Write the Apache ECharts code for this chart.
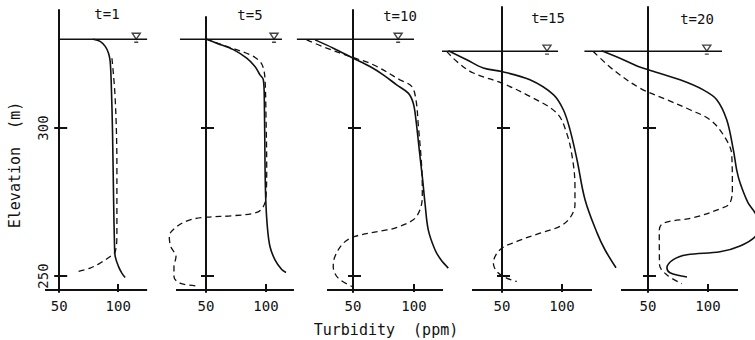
<!DOCTYPE html>
<html><head><meta charset="utf-8">
<script src="https://cdn.jsdelivr.net/npm/echarts@6/dist/echarts.min.js"></script>
<style>html,body{margin:0;padding:0;background:#fff}#c{width:755px;height:340px}</style>
</head><body><div id="c"></div>
<script>
// ---------- data ----------
const panelTitles = ['t=1', 't=5', 't=10', 't=15', 't=20'];
const xTickLabels = [50, 100];
const xTickMarks = [100];
const yTickLabels = [250, 300];
const xAxisName = 'Turbidity  (ppm)';
const yAxisName = 'Elevation  (m)';

// extent of each panel's drawn turbidity axis (ppm) and its elevation (m)
const bottomAxisStart = [38, 25, 28.7, 25, 27.5];
const bottomAxisEnd = [124.5, 123.3, 123.8, 125, 125];
const bottomAxisElevation = 245.3;

// water surface elevation (m) and horizontal extent of the surface line (ppm)
const waterLevel = [330, 330, 330, 326, 326];
const waterLineStart = [50, 28.3, 4, 0, -3];
const waterLineEnd = [124.5, 113.3, 100, 96.7, 111.7];
const waterMarkAt = [115.3, 106.7, 87, 87.5, 99];

// [turbidity (ppm), elevation (m)]
const solidT1 = [[78.8,330],[84.7,329.3],[89,327.6],[91.8,325.3],[93.2,322.5],[94.1,315.3],[95.2,298.4],[96.1,275.8],[96.9,260],[97.5,256.6],[100.3,253.2],[103.1,251],[105.9,249.5]];
const dashedT1 = [[94.7,323.6],[97.5,309.6],[98.9,287],[98.9,264.6],[97.5,258.3],[93.2,256.6],[84.7,254.4],[76.3,252.7],[66.4,251.6]];

const solidT5 = [[50,330.1],[58.9,328.7],[72.8,326.5],[83.9,323.6],[90.8,320.8],[95,318],[97.8,316.3],[98.6,309.6],[99.2,287],[99.8,275.8],[101.1,266.8],[103.3,260],[107.5,255.5],[113.1,252.2],[116.7,251.2]];
const dashedT5 = [[50,330.1],[67.3,327.6],[86.7,324.8],[95,322.5],[97.8,320.3],[99.2,316.3],[100,303.9],[100.6,287],[100,276.9],[97.8,273.5],[92.3,271.5],[72.8,270.4],[50.6,269.9],[36.7,269],[25.6,266.7],[19.4,263.4],[20.6,260],[25,256.6],[23.3,253.2],[23.3,249.9],[28.3,247.6],[42.3,246.7]];

const solidT10 = [[18.9,329.8],[33.9,327],[50.2,323.6],[63.9,320.8],[74.8,318],[85.8,314.6],[95.3,311.8],[99.4,308.4],[101.6,302.8],[104.3,292.7],[107.1,282.5],[109,274.7],[111.7,265.6],[117.2,258.9],[122.1,255.5],[128.1,252.7]];
const dashedT10 = [[12,329.8],[28.4,327],[48.9,324],[66.6,321.4],[88.5,316.3],[98.1,314.1],[101.6,309.6],[103.5,301.1],[106.3,287],[106.8,276.9],[104.9,272.4],[99.4,269],[84.4,266.2],[77.6,265.6],[51.6,263.4],[42,261.1],[35.2,256.6],[33.8,253.2],[37.9,249.3],[50.2,246.3]];

const solidT15 = [[5.3,326.1],[20.6,323.1],[34.4,320.3],[49.8,319.1],[73.3,316.3],[92.8,311.3],[101.1,306.2],[106.7,299.4],[112.5,289.3],[119.2,275.8],[129.2,264.6],[135.8,258.9],[145,252.8]];
const dashedT15 = [[3.9,325.9],[12.3,322.5],[26.1,318.6],[49.8,315.2],[73.3,310.7],[95.6,305.1],[103.9,298.3],[108.9,289.3],[110.8,280.3],[110.8,274.1],[106.7,269.7],[98.3,266.8],[81.7,264.5],[62.3,261.7],[48.3,258.9],[42.8,254.4],[45.6,251.6],[53.9,249.3],[62.3,248.2]];

const solidT20 = [[11.4,326.1],[29.4,323.1],[41.9,320.8],[50.3,319.7],[76.7,316.3],[96.1,312.9],[107.3,309.6],[115.6,302.8],[121.1,292.7],[123.9,285.9],[126.7,281.5],[133.3,274.8],[139.2,271.4],[143.3,267.4],[139.2,263.3],[126.7,260.2],[110,258.2],[82.5,257.2],[70.8,255.5],[65.8,252.8],[68.3,251.1],[82.5,249.7]];
const dashedT20 = [[4.4,325.9],[21.1,319.7],[43.3,313.5],[65.6,309.6],[85,306.2],[101.7,302.8],[112.8,297.7],[119.8,291],[120.3,279.2],[118.3,274.7],[112.5,273.1],[87.5,269.7],[62.8,267.9],[59.4,265.6],[59.6,253.8],[65.8,250.4],[78.1,247.4]];

const solidCurves = [solidT1, solidT5, solidT10, solidT15, solidT20];
const dashedCurves = [dashedT1, dashedT5, dashedT10, dashedT15, dashedT20];

// ---------- layout / style ----------
const FONT = 'DejaVu Sans Mono';
const INK = '#111';
// x50: pixel of 50 ppm, k: px per ppm, grid x range wide enough to hold every curve
const layout = [
  {x50: 59.2, k: 1.18, xMin: 30, xMax: 130, top: 10, tx: 107, ty: 14},
  {x50: 206,  k: 1.20, xMin: 12, xMax: 130, top: 17, tx: 250, ty: 15},
  {x50: 353,  k: 1.22, xMin: -5, xMax: 135, top: 10, tx: 400, ty: 16},
  {x50: 502,  k: 1.20, xMin: -8, xMax: 150, top: 7,  tx: 548, ty: 18},
  {x50: 648,  k: 1.20, xMin: -8, xMax: 150, top: 7,  tx: 697, ty: 19}
];
const pxPerM = 2.96, axisPx = 290, gridBottomPx = 292;
const yMin = bottomAxisElevation - (gridBottomPx - axisPx) / pxPerM;

const grids = [], xAxes = [], yAxes = [], series = [], graphics = [];
layout.forEach((L, i) => {
  const h = gridBottomPx - L.top;
  const yMax = yMin + h / pxPerM;
  const left = L.x50 - (50 - L.xMin) * L.k;
  const width = (L.xMax - L.xMin) * L.k;
  const off = -(50 - L.xMin) * L.k;
  grids.push({left: left, top: L.top, width: width, height: h, containLabel: false, outerBoundsMode: 'none'});
  xAxes.push({
    gridIndex: i, type: 'value', min: L.xMin, max: L.xMax, position: 'bottom',
    axisLine: {show: false, onZero: false},
    axisTick: {show: true, inside: true, length: 8, customValues: xTickMarks, lineStyle: {color: INK, width: 2}},
    axisLabel: {show: true, customValues: xTickLabels, margin: 7, color: INK, fontFamily: FONT, fontSize: 14},
    splitLine: {show: false}
  });
  yAxes.push({
    gridIndex: i, type: 'value', min: yMin, max: yMax, position: 'left', offset: off,
    axisLine: {show: true, onZero: false, lineStyle: {color: INK, width: 2}},
    axisTick: {show: true, inside: false, length: 5, customValues: yTickLabels, lineStyle: {color: INK, width: 2}},
    axisLabel: {show: i === 0, customValues: yTickLabels, rotate: 90, margin: 9, color: INK, fontFamily: FONT, fontSize: 14},
    splitLine: {show: false}
  });
  yAxes.push({
    gridIndex: i, type: 'value', min: yMin, max: yMax, position: 'left', offset: off,
    axisLine: {show: false},
    axisTick: {show: true, inside: true, length: 8, customValues: yTickLabels, lineStyle: {color: INK, width: 2}},
    axisLabel: {show: false},
    splitLine: {show: false}
  });
  const yi = 2 * i;
  series.push({
    type: 'line', xAxisIndex: i, yAxisIndex: yi, clip: false, silent: true,
    data: [[bottomAxisStart[i], bottomAxisElevation], [bottomAxisEnd[i], bottomAxisElevation]],
    showSymbol: false, lineStyle: {color: INK, width: 2}
  });
  series.push({
    type: 'line', xAxisIndex: i, yAxisIndex: yi, clip: false, silent: true,
    data: [[waterLineStart[i], waterLevel[i]], [waterLineEnd[i], waterLevel[i]]],
    showSymbol: false, lineStyle: {color: INK, width: 1.5}
  });
  series.push({
    type: 'line', xAxisIndex: i, yAxisIndex: yi, clip: false, silent: true,
    data: solidCurves[i], smooth: 0.35, showSymbol: false,
    lineStyle: {color: INK, width: 1.6}
  });
  series.push({
    type: 'line', xAxisIndex: i, yAxisIndex: yi, clip: false, silent: true,
    data: dashedCurves[i], smooth: 0.35, showSymbol: false,
    lineStyle: {color: INK, width: 1.3, type: [6, 4]}
  });
  series.push({
    type: 'scatter', xAxisIndex: i, yAxisIndex: yi, clip: false, silent: true,
    data: [[waterMarkAt[i], waterLevel[i]]],
    symbol: 'path://M0,0 L8,0 L4,6 Z M2,9 L6,9',
    symbolSize: [8, 9], symbolOffset: [0, -1.5],
    itemStyle: {color: '#fff', borderColor: INK, borderWidth: 1.4}
  });
  graphics.push({
    type: 'text', x: L.tx, y: L.ty, silent: true,
    style: {text: panelTitles[i], font: '14px "' + FONT + '"', fill: INK,
      align: 'center', verticalAlign: 'middle', textAlign: 'center', textVerticalAlign: 'middle'}
  });
});
graphics.push({
  type: 'text', x: 386, y: 330, silent: true,
  style: {text: xAxisName, font: '15px "' + FONT + '"', fill: INK,
    align: 'center', verticalAlign: 'middle', textAlign: 'center', textVerticalAlign: 'middle'}
});
graphics.push({
  type: 'text', x: 15, y: 165, rotation: Math.PI / 2, silent: true,
  style: {text: yAxisName, font: '15px "' + FONT + '"', fill: INK,
    align: 'center', verticalAlign: 'middle', textAlign: 'center', textVerticalAlign: 'middle'}
});

const chart = echarts.init(document.getElementById('c'), null, {renderer: 'svg'});
chart.setOption({
  animation: false,
  backgroundColor: '#fff',
  grid: grids, xAxis: xAxes, yAxis: yAxes, series: series, graphic: graphics
});
</script></body></html>
